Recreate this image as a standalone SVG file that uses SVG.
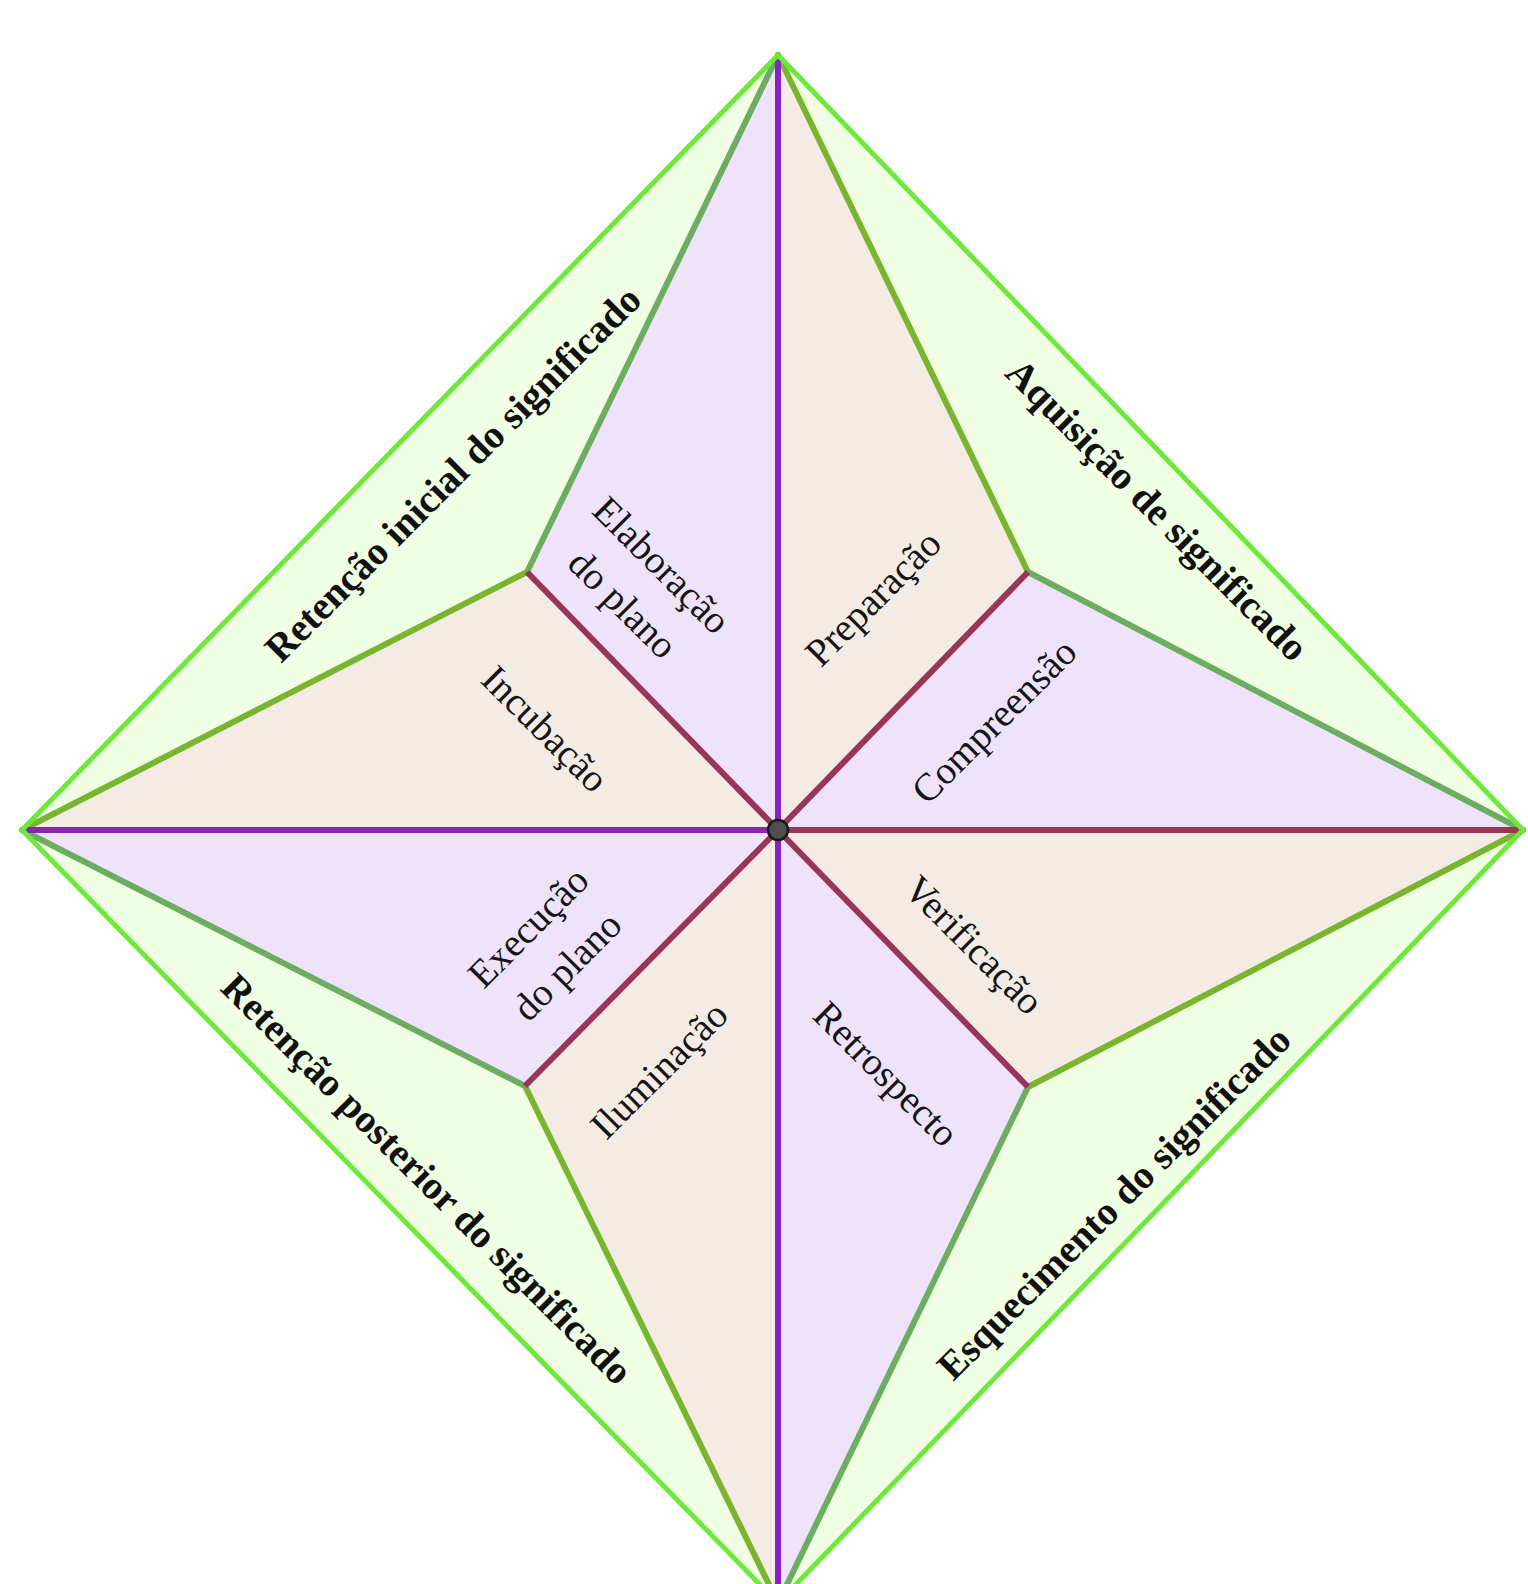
<svg xmlns="http://www.w3.org/2000/svg" width="1528" height="1584" viewBox="0 0 1528 1584">
<style>
.bg{fill:#ffffff}
.outer{fill:#f0ffe4}
.pur{fill:#efe3fb}
.bei{fill:#f4ebe5}
.edge{fill:none;stroke:#6ee83a;stroke-width:5;stroke-linejoin:round}
.sy{stroke:#79b52e;stroke-width:6;stroke-linecap:round}
.sg{stroke:#6cad62;stroke-width:6;stroke-linecap:round}
.lp{stroke:#8a22bf;stroke-width:6}
.lm{stroke:#983558;stroke-width:6}
.ob{font-family:"Liberation Serif","Times New Roman",serif;font-weight:bold;font-size:39.5px;fill:#111;text-anchor:middle}
.in{font-family:"Liberation Serif","Times New Roman",serif;font-size:39px;fill:#151515;text-anchor:middle}
</style>
<rect class="bg" x="0" y="0" width="1528" height="1584"/>
<polygon class="outer" points="778,55 1523,830 778,1603 22,830"/>

<g id="outer-regions">
<g id="retencao-inicial"><text class="ob" transform="translate(453,474) rotate(-45)" y="13">Retenção inicial do significado</text></g>
<g id="aquisicao"><text class="ob" transform="translate(1157,510) rotate(45)" y="13">Aquisição de significado</text></g>
<g id="retencao-posterior"><text class="ob" transform="translate(427,1179) rotate(45)" y="13">Retenção posterior do significado</text></g>
<g id="esquecimento"><text class="ob" transform="translate(1114,1203) rotate(-45)" y="13">Esquecimento do significado</text></g>
</g>

<g id="elaboracao"><polygon class="pur" points="778,55 527,572 778,830"/></g>
<g id="preparacao"><polygon class="bei" points="778,55 1028,572 778,830"/></g>
<g id="compreensao"><polygon class="pur" points="1028,572 1523,830 778,830"/></g>
<g id="verificacao"><polygon class="bei" points="1523,830 1028,1087 778,830"/></g>
<g id="retrospecto"><polygon class="pur" points="1028,1087 778,1603 778,830"/></g>
<g id="iluminacao"><polygon class="bei" points="778,1603 525,1086 778,830"/></g>
<g id="execucao"><polygon class="pur" points="525,1086 22,830 778,830"/></g>
<g id="incubacao"><polygon class="bei" points="22,830 527,572 778,830"/></g>

<g id="connectors">
<line class="sg" x1="778" y1="55" x2="527" y2="572"/>
<line class="sy" x1="527" y1="572" x2="22" y2="830"/>
<line class="sy" x1="778" y1="55" x2="1028" y2="572"/>
<line class="sg" x1="1028" y1="572" x2="1523" y2="830"/>
<line class="sy" x1="1523" y1="830" x2="1028" y2="1087"/>
<line class="sg" x1="1028" y1="1087" x2="778" y2="1603"/>
<line class="sy" x1="778" y1="1603" x2="525" y2="1086"/>
<line class="sg" x1="525" y1="1086" x2="22" y2="830"/>
<line class="lm" x1="778" y1="830" x2="527" y2="572"/>
<line class="lm" x1="778" y1="830" x2="1028" y2="572"/>
<line class="lm" x1="778" y1="830" x2="1028" y2="1087"/>
<line class="lm" x1="778" y1="830" x2="525" y2="1086"/>
<line class="lm" x1="778" y1="830" x2="1523" y2="830"/>
<line class="lp" x1="22" y1="830" x2="778" y2="830"/>
<line class="lp" x1="778" y1="55" x2="778" y2="1603"/>
<polygon class="edge" points="778,55 1523,830 778,1603 22,830"/>
</g>

<g id="center"><circle cx="778" cy="830" r="10" fill="#505050" stroke="#1a1a1a" stroke-width="2.5"/></g>

<g id="labels">
<text class="in" transform="translate(642,585) rotate(45)"><tspan x="0" y="-15">Elaboração</tspan><tspan x="0" y="40">do plano</tspan></text>
<text class="in" transform="translate(873,598) rotate(-45)" y="13">Preparação</text>
<text class="in" transform="translate(994,721) rotate(-45)" y="13">Compreensão</text>
<text class="in" transform="translate(545,729) rotate(45)" y="13">Incubação</text>
<text class="in" transform="translate(548,947) rotate(-45)"><tspan x="0" y="-15">Execução</tspan><tspan x="0" y="40">do plano</tspan></text>
<text class="in" transform="translate(974,945) rotate(45)" y="13">Verificação</text>
<text class="in" transform="translate(659,1070) rotate(-45)" y="13">Iluminação</text>
<text class="in" transform="translate(886,1074) rotate(45)" y="13">Retrospecto</text>
</g>
</svg>
